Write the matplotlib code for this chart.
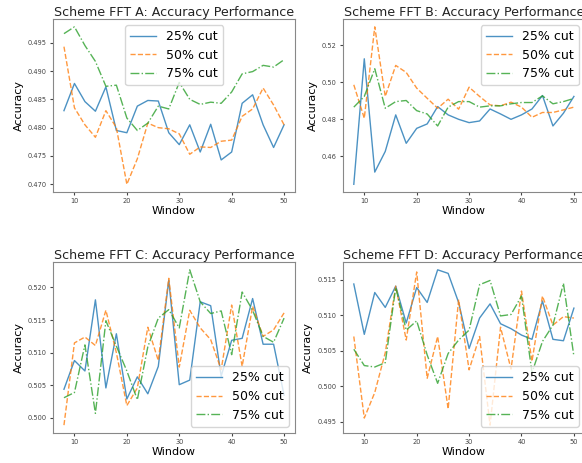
import numpy as np
import matplotlib
matplotlib.use("Agg")
import matplotlib.pyplot as plt

windows = list(range(8, 51, 2))
labels = ["25% cut", "50% cut", "75% cut"]

# Scheme A
a_25 = [0.4830, 0.4878, 0.4846, 0.4829, 0.4872, 0.4795, 0.4791, 0.4838, 0.4848, 0.4847, 0.4791,
        0.4770, 0.4805, 0.4757, 0.4806, 0.4743, 0.4757, 0.4843, 0.4858, 0.4805, 0.4765, 0.4805]
a_50 = [0.4943, 0.4835, 0.4805, 0.4783, 0.4830, 0.4800, 0.4700, 0.4745, 0.4808, 0.4800, 0.4798,
        0.4789, 0.4753, 0.4766, 0.4765, 0.4776, 0.4778, 0.4820, 0.4833, 0.4870, 0.4840, 0.4805]
a_75 = [0.4966, 0.4978, 0.4945, 0.4917, 0.4873, 0.4875, 0.4817, 0.4795, 0.4808, 0.4838, 0.4833,
        0.4880, 0.4850, 0.4841, 0.4845, 0.4843, 0.4863, 0.4895, 0.4899, 0.4910, 0.4907, 0.4920]

# Scheme B
b_25 = [0.4447, 0.5127, 0.4513, 0.4625, 0.4823, 0.4669, 0.4750, 0.4774, 0.4868, 0.4823, 0.4799,
        0.4781, 0.4790, 0.4855, 0.4828, 0.4799, 0.4823, 0.4855, 0.4928, 0.4763, 0.4832, 0.4923]
b_50 = [0.4986, 0.4805, 0.5300, 0.4923, 0.5091, 0.5053, 0.4968, 0.4913, 0.4859, 0.4908, 0.4854,
        0.4973, 0.4923, 0.4877, 0.4872, 0.4892, 0.4865, 0.4810, 0.4836, 0.4836, 0.4850, 0.4865]
b_75 = [0.4865, 0.4923, 0.5073, 0.4859, 0.4895, 0.4901, 0.4846, 0.4828, 0.4763, 0.4865, 0.4895,
        0.4895, 0.4865, 0.4872, 0.4872, 0.4883, 0.4890, 0.4890, 0.4926, 0.4883, 0.4895, 0.4912]

# Scheme C
c_25 = [0.5044, 0.5088, 0.5072, 0.5181, 0.5046, 0.5129, 0.5029, 0.5063, 0.5037, 0.5079, 0.5211,
        0.5051, 0.5058, 0.5178, 0.5172, 0.5064, 0.5119, 0.5122, 0.5183, 0.5113, 0.5113, 0.5035]
c_50 = [0.4989, 0.5115, 0.5124, 0.5111, 0.5165, 0.5100, 0.5019, 0.5046, 0.5139, 0.5088, 0.5214,
        0.5078, 0.5165, 0.5138, 0.5120, 0.5074, 0.5173, 0.5079, 0.5171, 0.5125, 0.5135, 0.5161]
c_75 = [0.5031, 0.5039, 0.5112, 0.5007, 0.5149, 0.5110, 0.5072, 0.5028, 0.5109, 0.5153, 0.5166,
        0.5138, 0.5227, 0.5178, 0.5160, 0.5164, 0.5097, 0.5193, 0.5165, 0.5125, 0.5116, 0.5153]

# Scheme D
d_25 = [0.5144, 0.5073, 0.5132, 0.5111, 0.5141, 0.5089, 0.5139, 0.5118, 0.5164, 0.5159, 0.5118,
        0.5053, 0.5096, 0.5116, 0.5088, 0.5081, 0.5072, 0.5066, 0.5120, 0.5066, 0.5064, 0.5110]
d_50 = [0.5070, 0.4955, 0.4991, 0.5047, 0.5141, 0.5065, 0.5161, 0.5011, 0.5070, 0.4968, 0.5122,
        0.5023, 0.5070, 0.4945, 0.5083, 0.5024, 0.5134, 0.5035, 0.5127, 0.5086, 0.5098, 0.5096]
d_75 = [0.5052, 0.5029, 0.5027, 0.5033, 0.5139, 0.5079, 0.5092, 0.5044, 0.5004, 0.5046, 0.5065,
        0.5079, 0.5143, 0.5149, 0.5099, 0.5101, 0.5127, 0.5019, 0.5063, 0.5086, 0.5145, 0.5042]

panels = [
    ("Scheme FFT A: Accuracy Performance", [a_25, a_50, a_75], "upper center"),
    ("Scheme FFT B: Accuracy Performance", [b_25, b_50, b_75], "upper right"),
    ("Scheme FFT C: Accuracy Performance", [c_25, c_50, c_75], "lower right"),
    ("Scheme FFT D: Accuracy Performance", [d_25, d_50, d_75], "lower right"),
]
# axes boxes [left, bottom, width, height]; the right column runs a little past the edge
boxes = [
    [0.091, 0.585, 0.416, 0.374],
    [0.589, 0.585, 0.416, 0.374],
    [0.091, 0.065, 0.416, 0.369],
    [0.589, 0.065, 0.416, 0.369],
]
styles = ["-", "--", "-."]

fig = plt.figure(figsize=(5.82, 4.63), dpi=100)
for (title, series, loc), box in zip(panels, boxes):
    ax = fig.add_axes(box)
    for vals, ls, lab in zip(series, styles, labels):
        ax.plot(windows, vals, ls, label=lab, linewidth=1.0, alpha=0.8)
    ax.set_title(title, fontsize=9.1, color="#222222", pad=2)
    ax.set_xlabel("Window", fontsize=8, labelpad=1)
    ax.set_ylabel("Accuracy", fontsize=8, labelpad=3)
    ax.tick_params(labelsize=4.8, length=2.5, pad=2, colors="#444444")
    for s in ax.spines.values():
        s.set_color("#888888")
    ax.legend(loc=loc, fontsize=9, handlelength=2.1, borderpad=0.4,
              labelspacing=0.45, handletextpad=0.8)

fig.savefig("out.png", dpi=100)
